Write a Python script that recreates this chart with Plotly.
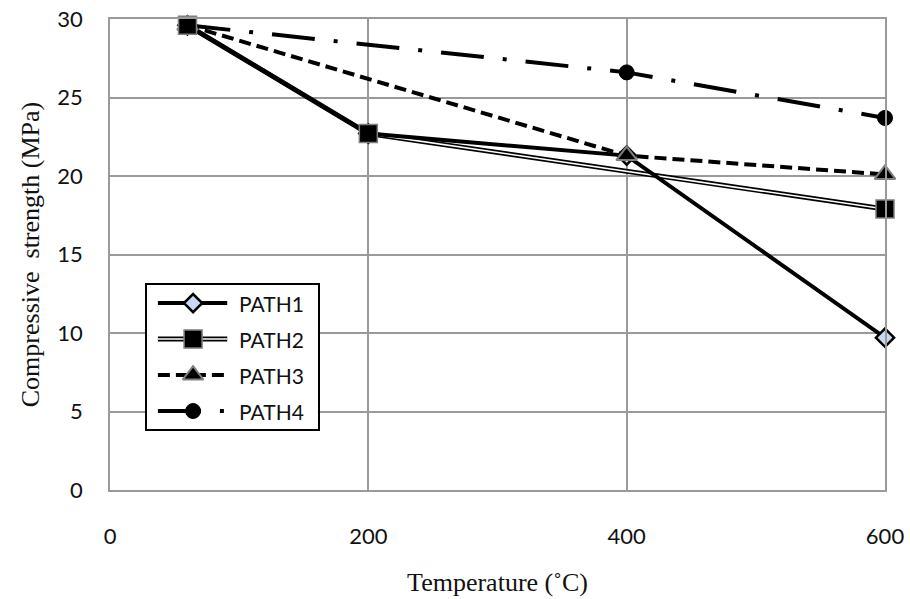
import plotly.graph_objects as go

# Compressive strength (MPa) against exposure temperature for four heating paths
path1_temp = [60, 200, 400, 600]
path1_mpa = [29.6, 22.7, 21.3, 9.7]

path2_temp = [60, 200, 600]
path2_mpa = [29.6, 22.7, 17.9]

path3_temp = [60, 400, 600]
path3_mpa = [29.6, 21.3, 20.1]

path4_temp = [60, 400, 600]
path4_mpa = [29.6, 26.6, 23.7]

series_names = ["PATH1", "PATH2", "PATH3", "PATH4"]
x_ticks = [0, 200, 400, 600]
y_ticks = [0, 5, 10, 15, 20, 25, 30]

GRID = "#9a9a9a"
TICK_FONT = dict(family="Lato, Open Sans, sans-serif", size=22, color="#111111")
TITLE_FONT = dict(family="Liberation Serif, Times New Roman, serif", size=26, color="#111111")

diamond = dict(symbol="diamond", size=14, color="#c9d8f1", line=dict(color="black", width=2.5))
square = dict(symbol="square", size=18, color="black", line=dict(color="#7f7f7f", width=1.5))
triangle = dict(symbol="triangle-up", size=18, color="black", line=dict(color="#7f7f7f", width=2))
circle = dict(symbol="circle", size=15, color="black", line=dict(color="black", width=1))

dash3 = "12px,6px"
dash4 = "43px,19px,4px,19px"

fig = go.Figure()


def line(x, y, width, color="black", dash="solid", xa="x", ya="y"):
    fig.add_trace(go.Scatter(x=x, y=y, mode="lines", xaxis=xa, yaxis=ya,
                             line=dict(color=color, width=width, dash=dash),
                             cliponaxis=False, showlegend=False, hoverinfo="skip"))


def markers(x, y, marker, xa="x", ya="y"):
    fig.add_trace(go.Scatter(x=x, y=y, mode="markers", xaxis=xa, yaxis=ya, marker=marker,
                             cliponaxis=False, showlegend=False, hoverinfo="skip"))


# lines: PATH2 is a double rule (black with a white core)
line(path2_temp, path2_mpa, 5)
line(path2_temp, path2_mpa, 1.6, color="white")
line(path1_temp, path1_mpa, 4)
line(path3_temp, path3_mpa, 4, dash=dash3)
line(path4_temp, path4_mpa, 4, dash=dash4)

# markers on top of every line
markers(path1_temp, path1_mpa, diamond)
markers(path3_temp, path3_mpa, triangle)
markers(path4_temp, path4_mpa, circle)
markers(path2_temp, path2_mpa, square)

# hand-built legend in an inset axis
key_x = [0.064, 0.27, 0.47]
key_rows = [3.5, 2.5, 1.5, 0.5]
key_ends = [key_x[0], key_x[2]]
key_mid = [key_x[1]]

line(key_ends, [key_rows[0]] * 2, 4, xa="x2", ya="y2")
markers(key_mid, [key_rows[0]], diamond, xa="x2", ya="y2")

line(key_ends, [key_rows[1]] * 2, 5, xa="x2", ya="y2")
line(key_ends, [key_rows[1]] * 2, 1.6, color="white", xa="x2", ya="y2")
markers(key_mid, [key_rows[1]], square, xa="x2", ya="y2")

line(key_ends, [key_rows[2]] * 2, 4, dash=dash3, xa="x2", ya="y2")
markers(key_mid, [key_rows[2]], triangle, xa="x2", ya="y2")

line(key_ends, [key_rows[3]] * 2, 4, dash=dash4, xa="x2", ya="y2")
markers(key_mid, [key_rows[3]], circle, xa="x2", ya="y2")

for name, row in zip(series_names, key_rows):
    fig.add_annotation(x=0.53, y=row, xref="x2", yref="y2", text=name, showarrow=False,
                       xanchor="left", yanchor="middle",
                       font=dict(family="Lato, Open Sans, sans-serif", size=21, color="#111111"))

# white backing for the legend box, hiding the grid behind it
fig.add_shape(type="rect", xref="x2", yref="y2", x0=0, x1=1, y0=0, y1=4,
              fillcolor="white", line=dict(width=0), layer="below")

fig.update_layout(
    width=910, height=599,
    margin=dict(l=110, r=25, t=19, b=109),
    plot_bgcolor="white", paper_bgcolor="white",
    showlegend=False,
    xaxis=dict(range=[0, 600], tickvals=x_ticks, showgrid=True, gridcolor=GRID, gridwidth=1.5,
               showline=True, linecolor=GRID, linewidth=1.5, mirror=True, zeroline=False,
               ticks="", tickfont=TICK_FONT, ticklabelstandoff=26, automargin=False,
               title=dict(text="Temperature (˚C)", font=TITLE_FONT, standoff=25)),
    yaxis=dict(range=[0, 30], tickvals=y_ticks, showgrid=True, gridcolor=GRID, gridwidth=1.5,
               showline=True, linecolor=GRID, linewidth=1.5, mirror=True, zeroline=False,
               ticks="", tickfont=TICK_FONT, ticklabelstandoff=21, automargin=False,
               title=dict(text="Compressive  strength (MPa)", font=TITLE_FONT, standoff=10)),
    xaxis2=dict(domain=[0.0477, 0.268], range=[0, 1], anchor="y2", visible=True,
                showgrid=False, zeroline=False, showticklabels=False, ticks="",
                showline=True, linecolor="black", linewidth=1.5, mirror=True),
    yaxis2=dict(domain=[0.1295, 0.435], range=[0, 4], anchor="x2",
                showgrid=False, zeroline=False, showticklabels=False, ticks="",
                showline=True, linecolor="black", linewidth=1.5, mirror=True),
)

fig.write_html("out.html")
